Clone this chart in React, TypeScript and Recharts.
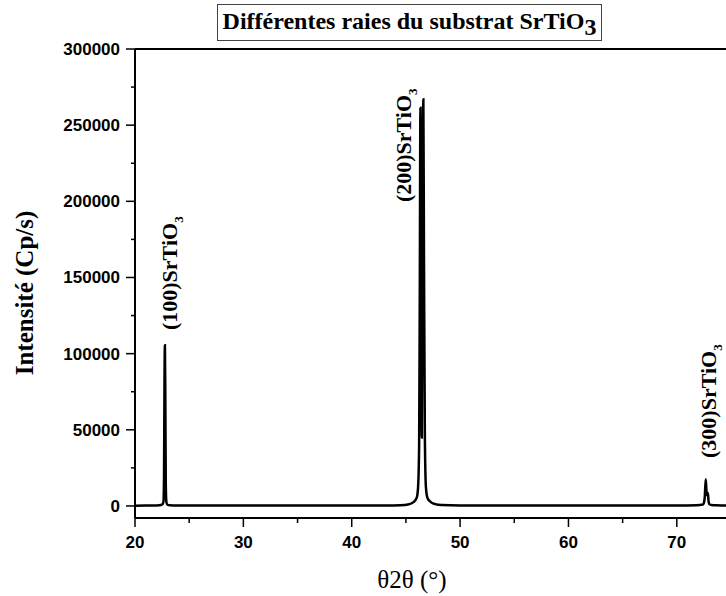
import { LineChart, Line, XAxis, YAxis, ReferenceDot } from "recharts";

// 2θ scan of the SrTiO3 substrate
const theta = [
  20, 21, 22, 22.4, 22.55, 22.63, 22.68, 22.72, 22.76, 22.8, 22.84, 22.89, 22.97, 23.2, 24, 26, 30, 35, 40, 43,
  44.5, 45.2, 45.7, 46.0, 46.12, 46.22, 46.28, 46.34, 46.4, 46.47, 46.53, 46.61, 46.67, 46.75, 46.85, 47.0, 47.3,
  47.7, 48.3, 50, 55, 60, 65, 70, 71.8, 72.4, 72.5, 72.58, 72.67, 72.74, 72.8, 72.87, 72.93, 73.0, 73.2, 73.6,
  74.5, 75,
];
const intensity = [
  200, 250, 350, 600, 1200, 3000, 20000, 80000, 105500, 70000, 15000, 3000, 1000, 500, 350, 300, 250, 250, 250, 300,
  500, 1000, 2500, 5500, 12000, 40000, 140000, 261500, 190000, 45000, 190000, 267000, 160000, 45000, 12000, 5000, 2500,
  1200, 600, 350, 300, 300, 300, 350, 500, 900, 2000, 6000, 17500, 9500, 7000, 8500, 3000, 1200, 600, 400,
  350, 300,
];

const xMajorTicks = [20, 30, 40, 50, 60, 70];
const xAllTicks = [20, 25, 30, 35, 40, 45, 50, 55, 60, 65, 70, 75];
const yMajorTicks = [0, 50000, 100000, 150000, 200000, 250000, 300000];
const yAllTicks = [
  0, 25000, 50000, 75000, 100000, 125000, 150000, 175000, 200000, 225000, 250000, 275000, 300000,
];
const topTicks = [25, 70];
const rightTicks = [53000, 114000, 176000, 257000];

const peakNames = ["(100)", "(200)", "(300)"];
const peakLabelTheta = [23.91, 45.51, 73.65];
const peakLabelIntensity = [115500, 199500, 31500];

const data = theta.map((t, i) => ({ theta: t, intensity: intensity[i] }));

const serif = '"Liberation Serif", "Times New Roman", Times, serif';
const sans = '"Liberation Sans", Arial, Helvetica, sans-serif';

function XTick(props: any) {
  const { x, y, payload } = props;
  const major = xMajorTicks.includes(payload.value);
  return (
    <g>
      <line x1={x} x2={x} y1={y} y2={y + (major ? 9 : 5)} stroke="#000" strokeWidth={1.5} />
      {major && (
        <text x={x} y={y + 30} textAnchor="middle" fontFamily={sans} fontWeight="bold" fontSize={17} fill="#000">
          {payload.value}
        </text>
      )}
    </g>
  );
}

function YTick(props: any) {
  const { x, y, payload } = props;
  const major = yMajorTicks.includes(payload.value);
  return (
    <g>
      <line x1={x - (major ? 9 : 4)} x2={x} y1={y} y2={y} stroke="#000" strokeWidth={1.5} />
      {major && (
        <text x={x - 15} y={y} dy="0.35em" textAnchor="end" fontFamily={sans} fontWeight="bold" fontSize={17} fill="#000">
          {payload.value}
        </text>
      )}
    </g>
  );
}

function PeakLabel({ cx, cy, name }: any) {
  return (
    <text
      x={cx}
      y={cy}
      transform={`rotate(-90 ${cx} ${cy})`}
      fontFamily={serif}
      fontWeight="bold"
      fontSize={22}
      fill="#000"
    >
      {name}SrTiO
      <tspan dy={6} fontSize={13}>
        3
      </tspan>
    </text>
  );
}

export default function App() {
  return (
    <div
      style={{
        position: "fixed",
        left: 0,
        top: 0,
        width: 726,
        height: 596,
        overflow: "hidden",
        background: "#fff",
      }}
    >
      <div
        style={{
          position: "absolute",
          left: 217,
          top: 4,
          width: 385,
          height: 37,
          boxSizing: "border-box",
          border: "1.5px solid #444",
          fontFamily: serif,
          fontWeight: "bold",
          fontSize: 24,
          textAlign: "center",
          lineHeight: "28px",
          paddingTop: 2,
          whiteSpace: "nowrap",
          color: "#000",
        }}
      >
        Différentes raies du substrat SrTiO<span style={{ position: "relative", top: 6 }}>3</span>
      </div>
      <LineChart width={760} height={596} data={data} margin={{ top: 49, right: 29, left: 65, bottom: 38 }}>
        <XAxis
          dataKey="theta"
          type="number"
          domain={[20, 75]}
          allowDataOverflow
          ticks={xAllTicks}
          interval={0}
          tickLine={false}
          tickSize={0}
          tickMargin={0}
          height={40}
          tick={<XTick />}
          axisLine={{ stroke: "#000", strokeWidth: 2 }}
          label={{
            content: () => (
              <text x={412} y={588} textAnchor="middle" fontFamily={serif} fontSize={25} fill="#000">
                θ2θ (°)
              </text>
            ),
          }}
        />
        <XAxis
          xAxisId="top"
          orientation="top"
          type="number"
          domain={[20, 75]}
          allowDataOverflow
          ticks={topTicks}
          mirror
          tick={false}
          tickSize={5}
          tickLine={{ stroke: "#000", strokeWidth: 1.5 }}
          axisLine={{ stroke: "#000", strokeWidth: 2 }}
        />
        <YAxis
          type="number"
          domain={[-7900, 300000]}
          allowDataOverflow
          ticks={yAllTicks}
          interval={0}
          width={70}
          tickLine={false}
          tickSize={0}
          tickMargin={0}
          tick={<YTick />}
          axisLine={{ stroke: "#000", strokeWidth: 2 }}
          label={{
            content: () => (
              <text
                x={24}
                y={293}
                transform="rotate(-90 24 293)"
                textAnchor="middle"
                dy="0.35em"
                fontFamily={serif}
                fontWeight="bold"
                fontSize={25}
                fill="#000"
              >
                Intensité (Cp/s)
              </text>
            ),
          }}
        />
        <YAxis
          yAxisId="right"
          orientation="right"
          type="number"
          domain={[-7900, 300000]}
          allowDataOverflow
          ticks={rightTicks}
          mirror
          tick={false}
          tickSize={9}
          tickLine={{ stroke: "#000", strokeWidth: 1.5 }}
          axisLine={{ stroke: "#000", strokeWidth: 2 }}
        />
        <Line
          type="monotone"
          dataKey="intensity"
          stroke="#000"
          strokeWidth={2.5}
          dot={false}
          isAnimationActive={false}
        />
        {peakNames.map((name, i) => (
          <ReferenceDot
            key={name}
            x={peakLabelTheta[i]}
            y={peakLabelIntensity[i]}
            r={0}
            shape={(p: any) => <PeakLabel cx={p.cx} cy={p.cy} name={name} />}
          />
        ))}
      </LineChart>
    </div>
  );
}
